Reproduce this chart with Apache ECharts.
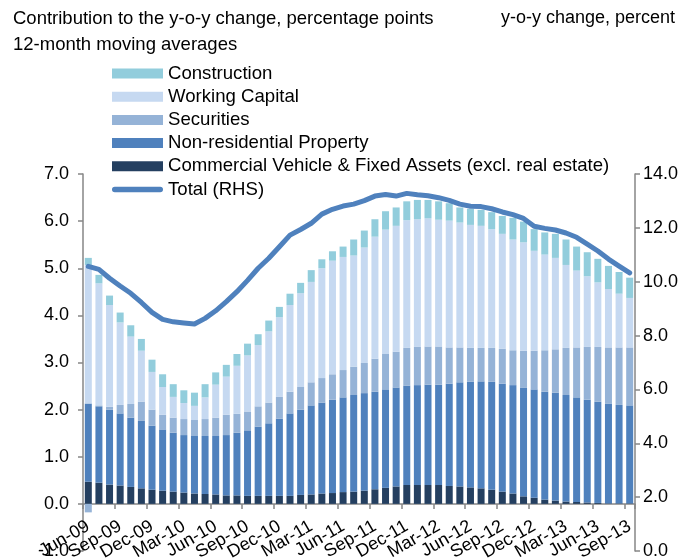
<!DOCTYPE html>
<html>
<head>
<meta charset="utf-8">
<script src="https://cdn.jsdelivr.net/npm/echarts@6/dist/echarts.min.js"></script>
<style>
html,body{margin:0;padding:0;background:#fff;}
#chart{width:686px;height:558px;}
</style>
</head>
<body>
<div id="chart"></div>
<script>
const months = ['Jun-09','Jul-09','Aug-09','Sep-09','Oct-09','Nov-09','Dec-09',
'Jan-10','Feb-10','Mar-10','Apr-10','May-10','Jun-10','Jul-10','Aug-10','Sep-10','Oct-10','Nov-10','Dec-10',
'Jan-11','Feb-11','Mar-11','Apr-11','May-11','Jun-11','Jul-11','Aug-11','Sep-11','Oct-11','Nov-11','Dec-11',
'Jan-12','Feb-12','Mar-12','Apr-12','May-12','Jun-12','Jul-12','Aug-12','Sep-12','Oct-12','Nov-12','Dec-12',
'Jan-13','Feb-13','Mar-13','Apr-13','May-13','Jun-13','Jul-13','Aug-13','Sep-13'];

const commercialVehicle = [0.47,0.45,0.41,0.39,0.36,0.33,0.30,0.28,0.26,0.24,0.22,0.21,0.20,0.18,0.18,0.17,0.17,0.17,0.17,0.17,0.19,0.20,0.22,0.23,0.25,0.26,0.28,0.31,0.34,0.37,0.40,0.40,0.40,0.40,0.38,0.37,0.35,0.33,0.30,0.26,0.22,0.16,0.13,0.09,0.07,0.05,0.04,0.03,0.02,0.01,0.01,0.01];
const nonResidential = [1.66,1.62,1.59,1.53,1.47,1.43,1.36,1.30,1.25,1.22,1.22,1.23,1.24,1.28,1.33,1.39,1.47,1.54,1.64,1.75,1.81,1.89,1.93,1.98,2.01,2.05,2.07,2.07,2.09,2.10,2.11,2.12,2.13,2.13,2.17,2.21,2.24,2.27,2.29,2.29,2.30,2.31,2.30,2.29,2.29,2.26,2.22,2.18,2.15,2.12,2.09,2.08];
const securities = [-0.18,0.02,0.06,0.18,0.29,0.41,0.34,0.31,0.32,0.34,0.34,0.36,0.39,0.43,0.40,0.40,0.43,0.44,0.46,0.46,0.48,0.49,0.52,0.54,0.58,0.60,0.64,0.70,0.75,0.76,0.80,0.81,0.81,0.81,0.77,0.74,0.72,0.71,0.72,0.74,0.74,0.78,0.82,0.88,0.92,1.00,1.06,1.12,1.16,1.19,1.22,1.23];
const workingCapital = [2.94,2.59,2.16,1.75,1.43,1.08,0.80,0.59,0.44,0.34,0.30,0.46,0.70,0.81,1.02,1.19,1.30,1.51,1.69,1.84,1.99,2.13,2.33,2.41,2.40,2.36,2.45,2.59,2.64,2.67,2.71,2.71,2.72,2.69,2.69,2.65,2.61,2.59,2.52,2.44,2.35,2.30,2.12,2.03,1.94,1.76,1.63,1.50,1.37,1.24,1.14,1.05];
const construction = [0.15,0.18,0.20,0.21,0.24,0.25,0.26,0.27,0.27,0.27,0.28,0.28,0.26,0.25,0.25,0.25,0.23,0.23,0.22,0.24,0.22,0.25,0.19,0.20,0.22,0.34,0.36,0.37,0.39,0.39,0.40,0.41,0.39,0.39,0.37,0.32,0.34,0.34,0.36,0.38,0.46,0.44,0.46,0.47,0.51,0.54,0.51,0.51,0.50,0.49,0.46,0.43];
const totalRHS = [10.57,10.46,10.13,9.84,9.57,9.23,8.86,8.60,8.51,8.47,8.43,8.64,8.92,9.26,9.63,10.05,10.50,10.87,11.30,11.73,11.94,12.17,12.51,12.69,12.81,12.88,13.01,13.18,13.24,13.18,13.28,13.23,13.19,13.12,13.02,12.88,12.80,12.79,12.71,12.59,12.49,12.35,12.06,11.98,11.92,11.81,11.65,11.40,11.14,10.84,10.58,10.33];

const FONT = 'Arial, "Liberation Sans", sans-serif';
const axisGray = '#868686';

const chart = echarts.init(document.getElementById('chart'), null, {renderer: 'canvas'});

function barSeries(name, data, color) {
  return {
    name: name, type: 'bar', stack: 'total', data: data,
    barCategoryGap: '34%',
    itemStyle: {color: color},
    emphasis: {disabled: true}
  };
}

const xLabelBase = {rotate: 30, fontFamily: FONT, fontSize: 18, lineHeight: 12,
                    color: '#000', margin: 21, hideOverlap: false,
                    showMinLabel: true, showMaxLabel: true};

const option = {
  animation: false,
  textStyle: {fontFamily: FONT},
  title: [
    {text: 'Contribution to the y-o-y change, percentage points', left: 8, top: 4,
     textStyle: {fontFamily: FONT, fontSize: 18.5, fontWeight: 'normal', color: '#000'}},
    {text: '12-month moving averages', left: 8, top: 30,
     textStyle: {fontFamily: FONT, fontSize: 18.5, fontWeight: 'normal', color: '#000'}},
    {text: 'y-o-y change, percent', right: 6, top: 4,
     textStyle: {fontFamily: FONT, fontSize: 18, fontWeight: 'normal', color: '#000'}}
  ],
  legend: {
    orient: 'vertical', left: 112, top: 64, padding: 0,
    itemWidth: 51, itemHeight: 10, itemGap: 4.2,
    textStyle: {fontFamily: FONT, fontSize: 18.6, color: '#000', lineHeight: 18},
    selectedMode: false,
    data: [
      {name: 'Construction', icon: 'rect'},
      {name: 'Working Capital', icon: 'rect'},
      {name: 'Securities', icon: 'rect'},
      {name: 'Non-residential Property', icon: 'rect'},
      {name: 'Commercial Vehicle & Fixed Assets (excl. real estate)', icon: 'rect'},
      {name: 'Total (RHS)', icon: 'path://M3,0 L52,0 A3,3 0 0 1 52,6 L3,6 A3,3 0 0 1 3,0 Z'}
    ]
  },
  grid: {left: 83, right: 51, top: 174, bottom: 7, containLabel: false, outerBoundsMode: 'none'},
  xAxis: [
    {
      type: 'category', data: months, boundaryGap: true, position: 'bottom',
      offset: -47,
      axisLine: {onZero: false, lineStyle: {color: axisGray, width: 1.5}},
      axisTick: {show: true, interval: 2, length: 5, lineStyle: {color: axisGray, width: 1.5}},
      axisLabel: Object.assign({}, xLabelBase, {interval: (i) => i % 6 === 0}),
      splitLine: {show: false}
    },
    {
      type: 'category', data: months, boundaryGap: true, position: 'bottom',
      offset: -47,
      axisLine: {show: false, onZero: false},
      axisTick: {show: false},
      axisLabel: Object.assign({}, xLabelBase, {interval: (i) => i % 6 === 3}),
      splitLine: {show: false}
    }
  ],
  yAxis: [
    {
      type: 'value', min: -1, max: 7, interval: 1, position: 'left',
      axisLine: {show: true, lineStyle: {color: axisGray, width: 1.5}},
      axisTick: {show: true, length: 5, lineStyle: {color: axisGray, width: 1.5}},
      axisLabel: {fontFamily: FONT, fontSize: 18, color: '#000', margin: 14,
                  formatter: v => v.toFixed(1)},
      splitLine: {show: false}
    },
    {
      type: 'value', min: 0, max: 14, interval: 2, position: 'right', alignTicks: false,
      axisLine: {show: true, lineStyle: {color: axisGray, width: 1.5}},
      axisTick: {show: true, length: 5, lineStyle: {color: axisGray, width: 1.5}},
      axisLabel: {fontFamily: FONT, fontSize: 18, color: '#000', margin: 8,
                  formatter: v => v.toFixed(1)},
      splitLine: {show: false}
    }
  ],
  series: [
    barSeries('Commercial Vehicle & Fixed Assets (excl. real estate)', commercialVehicle, '#243F60'),
    barSeries('Non-residential Property', nonResidential, '#4F81BD'),
    barSeries('Securities', securities, '#95B3D7'),
    barSeries('Working Capital', workingCapital, '#C6D9F1'),
    barSeries('Construction', construction, '#92CDDC'),
    {
      name: 'Total (RHS)', type: 'line', yAxisIndex: 1, data: totalRHS,
      symbol: 'none', smooth: false, z: 5,
      lineStyle: {color: '#4F81BD', width: 5, cap: 'round', join: 'round'},
      itemStyle: {color: '#4F81BD'},
      emphasis: {disabled: true}
    }
  ]
};
chart.setOption(option);
</script>
</body>
</html>
